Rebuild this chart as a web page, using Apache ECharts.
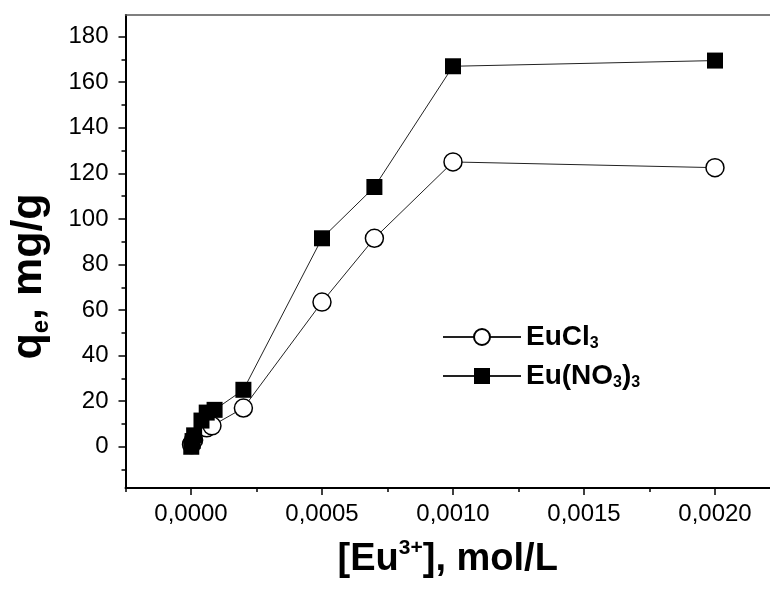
<!DOCTYPE html>
<html>
<head>
<meta charset="utf-8">
<script src="https://cdn.jsdelivr.net/npm/echarts@6/dist/echarts.min.js"></script>
<style>
  html, body { margin: 0; padding: 0; background: #fff; }
  #chart { width: 770px; height: 591px; }
</style>
</head>
<body>
<div id="chart"></div>
<script>
// values
const clX = [0.000002, 0.00001, 0.00006, 0.00008, 0.0002, 0.0005, 0.0007, 0.001, 0.002]
const clY = [1, 3, 8.3, 9.2, 17, 63.5, 91.5, 125, 122.5]
const no3X = [0.000001, 0.000006, 0.000012, 0.00004, 0.00006, 0.00009, 0.0002, 0.0005, 0.0007, 0.001, 0.002]
const no3Y = [0, 2.5, 5, 11.5, 15, 16.2, 25, 91.5, 114, 167, 169.5]

const xMajor = [0, 0.0005, 0.001, 0.0015, 0.002]
const xMinor = [-0.00025, 0.00025, 0.00075, 0.00125, 0.00175]
const yMajor = [0, 20, 40, 60, 80, 100, 120, 140, 160, 180]
const yMinor = [-10, 10, 30, 50, 70, 90, 110, 130, 150, 170, 190]

const xMin = -0.00025, xMax = 0.00221
const yMin = -18.1, yMax = 189.5

const font = '"Liberation Sans", Arial, sans-serif'

function pairs(xs, ys) {
  return xs.map((x, i) => [x, ys[i]])
}

let chart = echarts.init(document.getElementById('chart'))

let baseX = {
  type: 'value',
  min: xMin,
  max: xMax,
  splitLine: { show: false },
}
let baseY = {
  type: 'value',
  min: yMin,
  max: yMax,
  splitLine: { show: false },
}

let option = {
  animation: false,
  grid: { left: 125, top: 15, right: 0, bottom: 103 },
  xAxis: [
    Object.assign({}, baseX, {
      position: 'bottom',
      axisLine: { onZero: false, lineStyle: { color: '#000', width: 2 } },
      axisTick: { customValues: xMajor, length: 7, lineStyle: { color: '#000', width: 1.5 } },
      axisLabel: {
        customValues: xMajor,
        margin: 14,
        fontFamily: font,
        fontSize: 24,
        color: '#000',
        formatter: v => v.toFixed(4).replace('.', ','),
      },
      name: '{b|[Eu}{sup|3+}{b|], mol/L}',
      nameLocation: 'middle',
      nameGap: 50,
      nameTextStyle: {
        rich: {
          b: { fontFamily: font, fontSize: 38, fontWeight: 'bold', color: '#000', lineHeight: 44 },
          sup: { fontFamily: font, fontSize: 21, fontWeight: 'bold', color: '#000', lineHeight: 21, verticalAlign: 'top' },
        },
      },
    }),
    Object.assign({}, baseX, {
      position: 'bottom',
      axisLine: { show: false, onZero: false },
      axisTick: { customValues: xMinor, length: 4, lineStyle: { color: '#000', width: 1.5 } },
      axisLabel: { show: false },
    }),
    Object.assign({}, baseX, {
      position: 'top',
      axisLine: { onZero: false, lineStyle: { color: '#555', width: 1.5 } },
      axisTick: { show: false },
      axisLabel: { show: false },
    }),
  ],
  yAxis: [
    Object.assign({}, baseY, {
      position: 'left',
      axisLine: { onZero: false, lineStyle: { color: '#000', width: 2 } },
      axisTick: { customValues: yMajor, length: 7, lineStyle: { color: '#000', width: 1.5 } },
      axisLabel: {
        customValues: yMajor,
        margin: 17,
        fontFamily: font,
        fontSize: 24,
        color: '#000',
      },
      name: '{b|q}{sub|e}{b|, mg/g}',
      nameLocation: 'middle',
      nameGap: 72,
      nameRotate: 90,
      nameTextStyle: {
        padding: [0, 50, 0, 0],
        rich: {
          b: { fontFamily: font, fontSize: 43, fontWeight: 'bold', color: '#000', lineHeight: 48 },
          sub: { fontFamily: font, fontSize: 24, fontWeight: 'bold', color: '#000', lineHeight: 22, verticalAlign: 'bottom' },
        },
      },
    }),
    Object.assign({}, baseY, {
      position: 'left',
      axisLine: { show: false, onZero: false },
      axisTick: { customValues: yMinor, length: 4, lineStyle: { color: '#000', width: 1.5 } },
      axisLabel: { show: false },
    }),
  ],
  legend: {
    orient: 'vertical',
    left: 437,
    top: 318,
    itemWidth: 78,
    itemHeight: 20,
    itemGap: 10,
    data: ['EuCl3', 'Eu(NO3)3'],
    formatter: name => name === 'EuCl3' ? '{b|EuCl}{s|3}' : '{b|Eu(NO}{s|3}{b|)}{s|3}',
    textStyle: {
      rich: {
        b: { fontFamily: font, fontSize: 28, fontWeight: 'bold', color: '#000', lineHeight: 30 },
        s: { fontFamily: font, fontSize: 16, fontWeight: 'bold', color: '#000', lineHeight: 14, padding: [8, 0, 0, 0], verticalAlign: 'bottom' },
      },
    },
  },
  series: [
    {
      name: 'EuCl3',
      type: 'line',
      data: pairs(clX, clY),
      symbol: 'circle',
      symbolSize: 18,
      lineStyle: { color: '#222', width: 1 },
      itemStyle: { color: '#fff', borderColor: '#000', borderWidth: 1.5 },
    },
    {
      name: 'Eu(NO3)3',
      type: 'line',
      data: pairs(no3X, no3Y),
      symbol: 'rect',
      symbolSize: 16,
      lineStyle: { color: '#222', width: 1 },
      itemStyle: { color: '#000', borderColor: '#000', borderWidth: 0 },
    },
  ],
}

chart.setOption(option)
</script>
</body>
</html>
